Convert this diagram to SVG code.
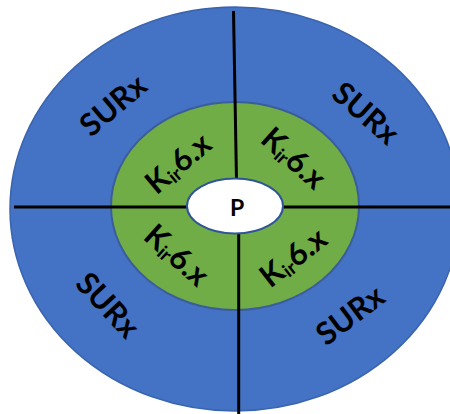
<svg xmlns="http://www.w3.org/2000/svg" width="450" height="414" viewBox="0 0 450 414">
<style>
.lbl{font-family:Lato,"Open Sans","Liberation Sans",sans-serif;font-weight:bold;fill:#000;text-anchor:middle}
.big{font-size:31px}
.sub{font-size:19px}
.ln{stroke:#000;stroke-width:3;fill:none}
</style>
<rect width="450" height="414" fill="#fff"/>
<g id="surx-ring">
<ellipse cx="235" cy="209" rx="225" ry="202" fill="#4472C4" stroke="#3A64AE" stroke-width="1.5"/>
</g>
<g id="kir-ring">
<ellipse cx="235" cy="206" rx="124" ry="104" fill="#70AD47" stroke="#3B5E9A" stroke-width="2"/>
</g>
<g id="connectors">
<line class="ln" x1="14" y1="207" x2="188" y2="207"/>
<line class="ln" x1="283" y1="207" x2="450" y2="207"/>
<line class="ln" x1="233.5" y1="11" x2="236.5" y2="181"/>
<line class="ln" x1="238.7" y1="234" x2="238.7" y2="414"/>
</g>
<g id="pore">
<ellipse cx="235" cy="206" rx="48" ry="27.5" fill="#fff" stroke="#2F5597" stroke-width="2"/>
<text class="lbl" x="237" y="216" font-size="23">P</text>
</g>
<g id="surx-tl"><text class="lbl big" transform="translate(113,105) rotate(-40)" y="11">SURx</text></g>
<g id="surx-tr"><text class="lbl big" transform="translate(366,113) rotate(41)" y="11">SURx</text></g>
<g id="surx-bl"><text class="lbl big" transform="translate(108,305) rotate(47)" y="11">SURx</text></g>
<g id="surx-br"><text class="lbl big" transform="translate(350,315) rotate(-37)" y="11">SURx</text></g>
<g id="kir-tl"><text class="lbl big" transform="translate(178,163) rotate(-40)" y="11">K<tspan class="sub" dy="3">ir</tspan><tspan dy="-3">6.x</tspan></text></g>
<g id="kir-tr"><text class="lbl big" transform="translate(294,158) rotate(42)" y="11">K<tspan class="sub" dy="3">ir</tspan><tspan dy="-3">6.x</tspan></text></g>
<g id="kir-bl"><text class="lbl big" transform="translate(177,255) rotate(42)" y="11">K<tspan class="sub" dy="3">ir</tspan><tspan dy="-3">6.x</tspan></text></g>
<g id="kir-br"><text class="lbl big" transform="translate(293,257) rotate(-38)" y="11">K<tspan class="sub" dy="3">ir</tspan><tspan dy="-3">6.x</tspan></text></g>
</svg>
